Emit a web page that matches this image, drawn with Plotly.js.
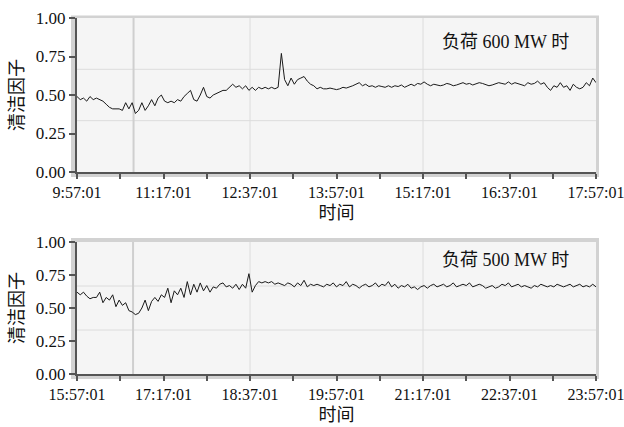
<!DOCTYPE html>
<html>
<head>
<meta charset="utf-8">
<script src="https://cdn.plot.ly/plotly-3.0.1.min.js"></script>
<style>html,body{margin:0;padding:0;background:#fff;}#chart{width:624px;height:427px;}</style>
</head>
<body>
<div id="chart"></div>
<script>
// ---- data ----
var topStart = '2000-01-01 09:57:01';
var bottomStart = '2000-01-01 15:57:01';
var stepMinutes = 3;
var topValues = [
0.49,0.47,0.48,0.46,0.49,0.47,0.48,0.47,0.46,0.44,
0.42,0.41,0.41,0.41,0.40,0.45,0.41,0.45,0.38,0.40,
0.45,0.40,0.43,0.47,0.43,0.48,0.50,0.46,0.45,0.46,
0.45,0.47,0.46,0.49,0.51,0.53,0.47,0.46,0.50,0.55,
0.49,0.48,0.50,0.51,0.52,0.53,0.53,0.55,0.57,0.55,
0.56,0.54,0.56,0.53,0.55,0.53,0.55,0.54,0.55,0.54,
0.55,0.54,0.55,0.77,0.60,0.56,0.61,0.57,0.60,0.61,
0.62,0.59,0.57,0.56,0.54,0.55,0.54,0.54,0.545,0.54,
0.535,0.54,0.55,0.545,0.55,0.56,0.57,0.58,0.56,0.57,
0.555,0.56,0.55,0.56,0.555,0.55,0.56,0.55,0.56,0.555,
0.565,0.55,0.56,0.57,0.56,0.575,0.57,0.585,0.57,0.56,
0.57,0.565,0.56,0.565,0.575,0.57,0.56,0.565,0.57,0.58,
0.57,0.575,0.565,0.57,0.58,0.575,0.57,0.56,0.565,0.57,
0.58,0.575,0.57,0.585,0.57,0.58,0.575,0.57,0.56,0.58,
0.57,0.575,0.59,0.57,0.58,0.55,0.53,0.56,0.55,0.58,
0.55,0.56,0.53,0.57,0.55,0.54,0.55,0.58,0.56,0.61,0.58
];
var bottomValues = [
0.62,0.60,0.62,0.59,0.57,0.58,0.58,0.62,0.54,0.58,
0.56,0.60,0.51,0.56,0.52,0.54,0.48,0.47,0.45,0.46,
0.50,0.56,0.48,0.55,0.58,0.55,0.60,0.58,0.65,0.54,
0.63,0.60,0.65,0.58,0.70,0.60,0.68,0.62,0.69,0.63,
0.67,0.62,0.66,0.65,0.68,0.69,0.66,0.67,0.65,0.68,
0.64,0.68,0.65,0.76,0.62,0.67,0.70,0.69,0.70,0.69,
0.70,0.68,0.69,0.68,0.67,0.69,0.68,0.66,0.69,0.67,
0.71,0.66,0.68,0.67,0.68,0.67,0.66,0.68,0.67,0.69,
0.66,0.68,0.67,0.70,0.66,0.68,0.67,0.65,0.67,0.68,
0.66,0.67,0.69,0.66,0.68,0.67,0.70,0.66,0.68,0.65,
0.67,0.66,0.68,0.65,0.66,0.64,0.66,0.67,0.65,0.67,
0.68,0.66,0.67,0.68,0.66,0.67,0.69,0.66,0.67,0.68,
0.67,0.69,0.66,0.67,0.68,0.67,0.65,0.66,0.67,0.65,
0.66,0.68,0.67,0.69,0.66,0.67,0.68,0.66,0.67,0.66,
0.65,0.67,0.66,0.68,0.67,0.66,0.67,0.66,0.68,0.67,
0.66,0.67,0.68,0.66,0.67,0.68,0.66,0.67,0.66,0.68,0.66
];
var topTickLabels = ['9:57:01','','11:17:01','','12:37:01','','13:57:01','','15:17:01','','16:37:01','','17:57:01'];
var bottomTickLabels = ['15:57:01','','17:17:01','','18:37:01','','19:57:01','','21:17:01','','22:37:01','','23:57:01'];
var yTickVals = [0, 0.25, 0.5, 0.75, 1.0];
var yTickText = ['0.00','0.25','0.50','0.75','1.00'];
var topLabel = '负荷 600 MW 时';
var bottomLabel = '负荷 500 MW 时';
var xTitle = '时间';
var yTitle = '清洁因子';

// ---- helpers ----
function pad(n){return (n<10?'0':'')+n;}
function fmt(ms){var d=new Date(ms);return d.getUTCFullYear()+'-'+pad(d.getUTCMonth()+1)+'-'+pad(d.getUTCDate())+' '+pad(d.getUTCHours())+':'+pad(d.getUTCMinutes())+':'+pad(d.getUTCSeconds());}
function toMs(s){return Date.parse(s.replace(' ','T')+'Z');}
function timeSeries(start, n, stepMin){var t0=toMs(start);var out=[];for(var i=0;i<n;i++){out.push(fmt(t0+i*stepMin*60000));}return out;}
function tickVals(start, n){var t0=toMs(start);var out=[];for(var i=0;i<n;i++){out.push(fmt(t0+i*40*60000));}return out;}
function endOf(start){return fmt(toMs(start)+8*3600000);}

var W=624,H=427;
function px(x){return x/W;}
function py(y){return 1-y/H;}

var serif = 'Liberation Serif, Noto Sans CJK SC, serif';
var axisCol = '#555555';

var traces = [
  {x: timeSeries(topStart, topValues.length, stepMinutes), y: topValues, type:'scatter', mode:'lines',
   line:{color:'#1a1a1a', width:1}, xaxis:'x', yaxis:'y', hoverinfo:'skip'},
  {x: timeSeries(bottomStart, bottomValues.length, stepMinutes), y: bottomValues, type:'scatter', mode:'lines',
   line:{color:'#1a1a1a', width:1}, xaxis:'x2', yaxis:'y2', hoverinfo:'skip'}
];

function xAxis(start, labels, anchor, dom){
  return {
    type:'date', domain:dom, anchor:anchor, range:[start, endOf(start)],
    tickmode:'array', tickvals:tickVals(start, labels.length), ticktext:labels,
    ticks:'outside', ticklen:5, tickwidth:2, tickcolor:axisCol, ticklabeloverflow:'allow',
    showline:true, linecolor:axisCol, linewidth:2, showgrid:false, zeroline:false,
    tickfont:{family:serif, size:16, color:'#111'},
    title:{text:xTitle, font:{family:serif, size:18, color:'#111'}, standoff:6},
    fixedrange:true
  };
}
function yAxis(anchor, dom){
  return {
    domain:dom, anchor:anchor, range:[0,1],
    tickmode:'array', tickvals:yTickVals, ticktext:yTickText,
    ticks:'outside', ticklen:6, tickwidth:2, tickcolor:axisCol,
    showline:true, linecolor:axisCol, linewidth:2, showgrid:false, zeroline:false,
    tickfont:{family:serif, size:17, color:'#111'},
    title:{text:yTitle, font:{family:serif, size:18, color:'#111'}, standoff:8},
    fixedrange:true
  };
}

var xDom = [px(77), px(596)];
var yDomTop = [py(172), py(18)];
var yDomBot = [py(374), py(242)];

function panelShapes(xa, ya, frame, marker){
  var s = [];
  s.push({type:'rect', xref:'paper', yref:'paper', x0:px(frame[0]), x1:px(frame[1]), y0:py(frame[3]), y1:py(frame[2]),
          fillcolor:'#d2d2d2', line:{width:0}, layer:'below'});
  s.push({type:'rect', xref:xa+' domain', yref:ya+' domain', x0:0, x1:1, y0:0, y1:1,
          fillcolor:'#f5f5f5', line:{width:0}, layer:'below'});
  [1/3, 2/3].forEach(function(f){
    s.push({type:'line', xref:xa+' domain', yref:ya+' domain', x0:0, x1:1, y0:f, y1:f, line:{color:'#dcdcdc', width:1}, layer:'below'});
    s.push({type:'line', xref:xa+' domain', yref:ya+' domain', x0:f, x1:f, y0:0, y1:1, line:{color:'#dcdcdc', width:1}, layer:'below'});
  });
  s.push({type:'line', xref:xa+' domain', yref:ya+' domain', x0:marker, x1:marker, y0:0, y1:1, line:{color:'#cfcfcf', width:2}, layer:'below'});
  return s;
}

var layout = {
  width:W, height:H, margin:{l:0, r:0, t:0, b:0},
  paper_bgcolor:'#ffffff', plot_bgcolor:'rgba(0,0,0,0)', showlegend:false,
  xaxis: xAxis(topStart, topTickLabels, 'y', xDom),
  yaxis: yAxis('x', yDomTop),
  xaxis2: xAxis(bottomStart, bottomTickLabels, 'y2', xDom),
  yaxis2: yAxis('x2', yDomBot),
  shapes: panelShapes('x','y',[71,599,15.5,177], 0.109).concat(panelShapes('x2','y2',[71,599,238,379], 0.108)),
  annotations:[
    {text:topLabel, xref:'x domain', yref:'y domain', x:0.825, y:0.845, showarrow:false, xanchor:'center', yanchor:'middle',
     font:{family:serif, size:18, color:'#111'}},
    {text:bottomLabel, xref:'x2 domain', yref:'y2 domain', x:0.825, y:0.865, showarrow:false, xanchor:'center', yanchor:'middle',
     font:{family:serif, size:18, color:'#111'}}
  ]
};

Plotly.newPlot('chart', traces, layout, {displayModeBar:false, staticPlot:true});
</script>
</body>
</html>
